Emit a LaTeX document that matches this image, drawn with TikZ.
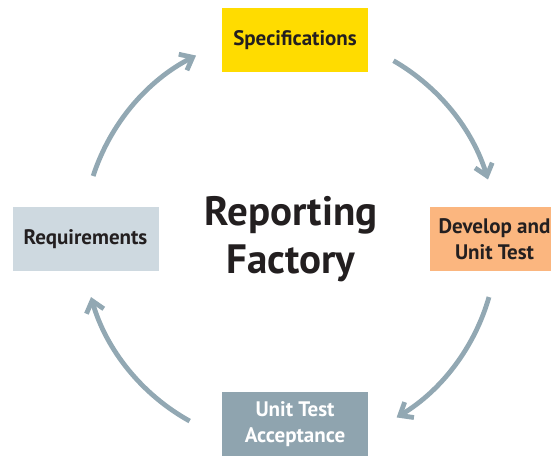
\documentclass[tikz,border=0pt]{standalone}
\usepackage{fontspec}
\setmainfont{PT Sans}
\usetikzlibrary{arrows.meta}
\definecolor{specyellow}{HTML}{FFDC00}
\definecolor{devorange}{HTML}{FBB67F}
\definecolor{reqgrey}{HTML}{CED9E0}
\definecolor{accgrey}{HTML}{8FA4AF}
\definecolor{arrowgrey}{HTML}{92A8B3}
\definecolor{inkdark}{HTML}{231F20}
\begin{document}
\begin{tikzpicture}[x=1pt,y=1pt,
    box/.style={fill=#1, minimum width=146pt, minimum height=64pt, inner sep=0pt, align=center,
      font=\bfseries\fontsize{21}{26}\selectfont, text=inkdark},
    flow/.style={draw=arrowgrey, line width=4.8pt, -{Straight Barb[length=11pt,width=18pt]}}]
  \useasboundingbox (0,0) rectangle (551,455);
  \node[box=specyellow] (spec) at (295,415) {\raisebox{-2pt}{Specifications}};
  \node[box=devorange, minimum width=130pt] (dev) at (494.5,215.5) {Develop and\\Unit Test};
  \node[box=reqgrey] (req) at (85.5,216) {Requirements};
  \node[box=accgrey, text=white] (acc) at (295,31) {Unit Test\\Acceptance};
  \node[font=\bfseries\fontsize{41}{48}\selectfont, align=center, text=inkdark] (title) at (291,216) {Reporting\\Factory};
  \coordinate (hub) at (290,215);
  \coordinate (r1) at ([shift={(162:207pt)}]hub);
  \coordinate (r2) at ([shift={(60:207pt)}]hub);
  \coordinate (r3) at ([shift={(-16:207pt)}]hub);
  \coordinate (r4) at ([shift={(-119:207pt)}]hub);
  \draw[flow] (r1) arc[start angle=162, end angle=117, radius=207pt];
  \draw[flow] (r2) arc[start angle=60, end angle=17, radius=207pt];
  \draw[flow] (r3) arc[start angle=-16, end angle=-59, radius=207pt];
  \draw[flow] (r4) arc[start angle=-119, end angle=-164, radius=207pt];
\end{tikzpicture}
\end{document}
